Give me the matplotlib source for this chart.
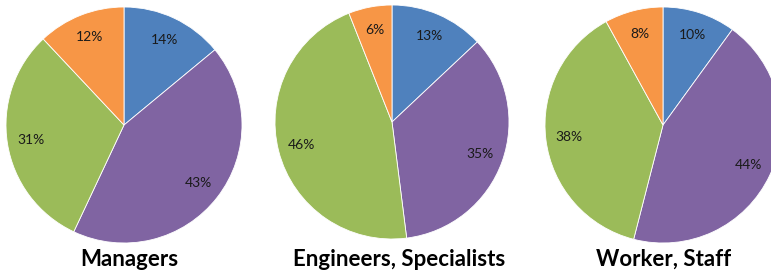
import matplotlib
matplotlib.use("Agg")
import matplotlib.pyplot as plt

# Data
groups = ["Managers", "Engineers, Specialists", "Worker, Staff"]
managers = [14, 43, 31, 12]
engineers = [13, 35, 46, 6]
workers = [10, 44, 38, 8]
colors = ["#4F81BD", "#8064A2", "#9BBB59", "#F79646"]

plt.rcParams["font.family"] = ["Lato", "DejaVu Sans"]

W, H = 771, 275
fig = plt.figure(figsize=(W / 100, H / 100), dpi=100)

# pie centres / radius in pixels, title centre x in pixels
pies = [
    (managers, 124, 125, 118, 129),
    (engineers, 392, 122, 117, 399),
    (workers, 663, 125, 118, 664),
]

for (values, cx, cy, r, tx), name in zip(pies, groups):
    ax = fig.add_axes([(cx - r) / W, (H - cy - r) / H, 2 * r / W, 2 * r / H])
    ax.pie(values, colors=colors, startangle=90, counterclock=False,
           autopct=lambda p: f"{p:.0f}%", pctdistance=0.8,
           wedgeprops=dict(edgecolor="white", linewidth=0.6),
           textprops=dict(fontsize=10, color="#1a1a1a"))
    ax.set_xlim(-1, 1)
    ax.set_ylim(-1, 1)
    ax.set_aspect("equal")
    fig.text(tx / W, 1 - 259 / H, name, ha="center", va="center",
             fontsize=16, fontweight="bold", color="black")

fig.savefig("out.png", dpi=100)
